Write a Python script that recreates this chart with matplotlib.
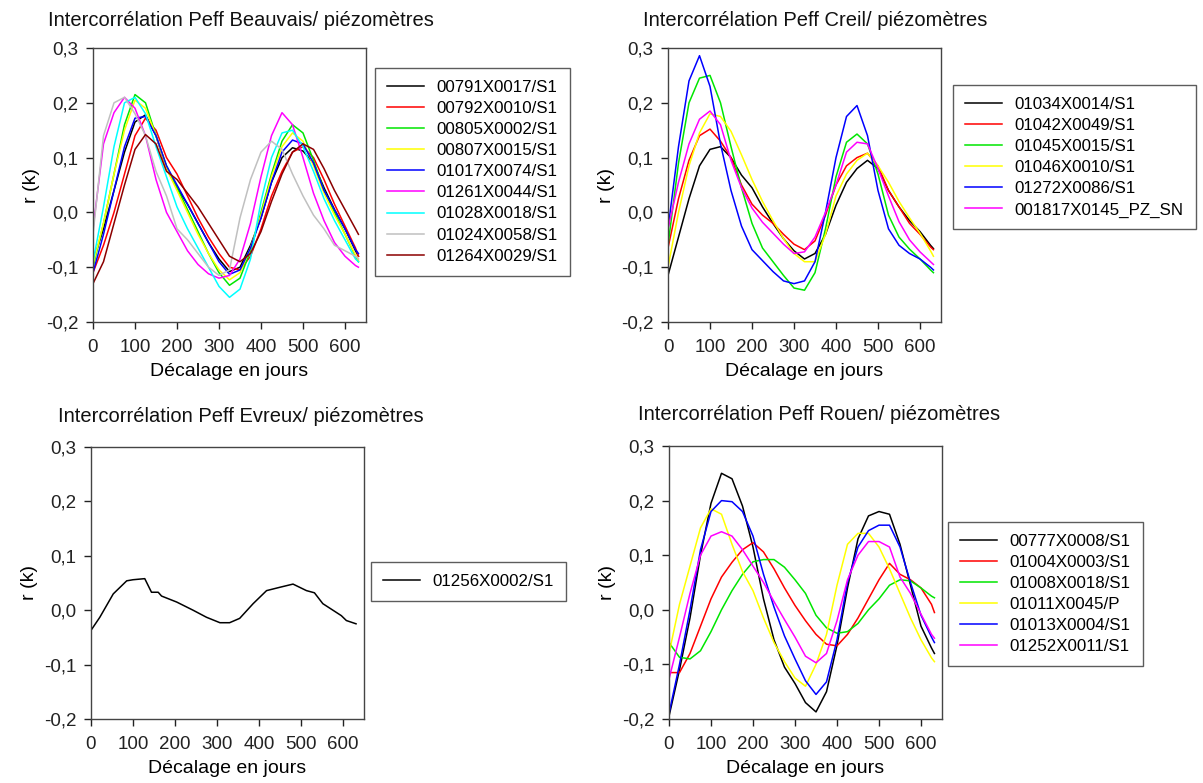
import matplotlib
matplotlib.use("Agg")
import matplotlib.pyplot as plt
from matplotlib.ticker import FuncFormatter

plt.rcParams['font.family'] = ['Liberation Sans', 'DejaVu Sans']

# lag grid (days) shared by the multi-series panels
lag = list(range(0, 626, 25)) + [632]

# --- Beauvais ---
beauvais_names = ["00791X0017/S1", "00792X0010/S1", "00805X0002/S1", "00807X0015/S1",
                  "01017X0074/S1", "01261X0044/S1", "01028X0018/S1", "01024X0058/S1",
                  "01264X0029/S1"]
beauvais_colors = ["#000000", "#ff0000", "#00e600", "#ffff00", "#0000ff",
                   "#ff00ff", "#00ffff", "#c0c0c0", "#8b0000"]
b_00791 = [-0.09, -0.03, 0.04, 0.11, 0.165, 0.178, 0.14, 0.08, 0.045, 0.015, -0.02, -0.055, -0.085,
           -0.108, -0.1, -0.06, -0.01, 0.055, 0.1, 0.118, 0.112, 0.09, 0.045, 0.005, -0.03, -0.07, -0.08]
b_00792 = [-0.11, -0.06, 0.0, 0.07, 0.14, 0.172, 0.15, 0.1, 0.07, 0.03, -0.01, -0.045, -0.075,
           -0.1, -0.105, -0.08, -0.03, 0.03, 0.075, 0.11, 0.12, 0.1, 0.06, 0.015, -0.025, -0.065, -0.08]
b_00805 = [-0.1, -0.02, 0.07, 0.16, 0.215, 0.2, 0.14, 0.085, 0.045, 0.005, -0.035, -0.075, -0.11,
           -0.133, -0.12, -0.07, 0.0, 0.07, 0.13, 0.16, 0.145, 0.095, 0.04, 0.0, -0.04, -0.08, -0.09]
b_00807 = [-0.095, -0.02, 0.07, 0.15, 0.205, 0.19, 0.14, 0.08, 0.04, 0.0, -0.04, -0.075, -0.105,
           -0.123, -0.11, -0.065, -0.005, 0.065, 0.12, 0.145, 0.13, 0.085, 0.035, -0.005, -0.04, -0.078, -0.087]
b_01017 = [-0.11, -0.04, 0.04, 0.12, 0.172, 0.175, 0.14, 0.085, 0.05, 0.015, -0.02, -0.055, -0.09,
           -0.113, -0.105, -0.065, -0.01, 0.055, 0.11, 0.132, 0.125, 0.09, 0.04, 0.005, -0.03, -0.068, -0.075]
b_01261 = [-0.03, 0.125, 0.182, 0.21, 0.19, 0.14, 0.06, 0.0, -0.035, -0.07, -0.095, -0.112, -0.12,
           -0.115, -0.085, -0.02, 0.065, 0.14, 0.182, 0.16, 0.1, 0.035, -0.015, -0.055, -0.08, -0.097, -0.1]
b_01028 = [-0.09, 0.01, 0.12, 0.2, 0.21, 0.18, 0.12, 0.065, 0.01, -0.03, -0.065, -0.1, -0.135,
           -0.155, -0.14, -0.085, 0.02, 0.1, 0.145, 0.15, 0.12, 0.075, 0.025, -0.015, -0.05, -0.085, -0.09]
b_01024 = [-0.04, 0.14, 0.2, 0.21, 0.18, 0.14, 0.075, 0.03, -0.03, -0.05, -0.075, -0.1, -0.115,
           -0.105, -0.01, 0.06, 0.11, 0.13, 0.115, 0.07, 0.03, -0.005, -0.03, -0.06, -0.07, -0.08, -0.085]
b_01264 = [-0.13, -0.09, -0.02, 0.05, 0.115, 0.142, 0.125, 0.075, 0.06, 0.035, 0.01, -0.02, -0.05,
           -0.08, -0.09, -0.075, -0.035, 0.02, 0.07, 0.11, 0.125, 0.115, 0.08, 0.04, 0.005, -0.03, -0.04]
beauvais_series = [b_00791, b_00792, b_00805, b_00807, b_01017, b_01261, b_01028, b_01024, b_01264]

# --- Creil ---
creil_names = ["01034X0014/S1", "01042X0049/S1", "01045X0015/S1", "01046X0010/S1",
               "01272X0086/S1", "001817X0145_PZ_SN"]
creil_colors = ["#000000", "#ff0000", "#00e600", "#ffff00", "#0000ff", "#ff00ff"]
c_01034 = [-0.115, -0.045, 0.025, 0.085, 0.115, 0.12, 0.1, 0.068, 0.045, 0.01, -0.02, -0.048, -0.07,
           -0.085, -0.075, -0.04, 0.013, 0.055, 0.08, 0.095, 0.08, 0.04, 0.01, -0.015, -0.035, -0.06, -0.066]
c_01042 = [-0.065, 0.025, 0.095, 0.14, 0.152, 0.13, 0.1, 0.05, 0.015, -0.005, -0.02, -0.04, -0.058,
           -0.068, -0.052, -0.005, 0.05, 0.085, 0.1, 0.108, 0.085, 0.04, 0.01, -0.02, -0.04, -0.063, -0.068]
c_01045 = [-0.06, 0.09, 0.2, 0.245, 0.25, 0.2, 0.12, 0.045, -0.02, -0.065, -0.09, -0.115, -0.138,
           -0.142, -0.11, -0.03, 0.065, 0.128, 0.143, 0.125, 0.07, -0.005, -0.045, -0.067, -0.085, -0.105, -0.11]
c_01046 = [-0.1, 0.0, 0.085, 0.145, 0.18, 0.175, 0.148, 0.105, 0.06, 0.02, -0.015, -0.048, -0.075,
           -0.09, -0.09, -0.04, 0.03, 0.07, 0.095, 0.108, 0.085, 0.055, 0.02, -0.01, -0.038, -0.07, -0.08]
c_01272 = [-0.03, 0.12, 0.24, 0.286, 0.23, 0.125, 0.04, -0.025, -0.068, -0.088, -0.108, -0.125, -0.13,
           -0.125, -0.09, 0.0, 0.1, 0.175, 0.195, 0.14, 0.04, -0.03, -0.06, -0.075, -0.085, -0.1, -0.105]
c_001817 = [-0.03, 0.055, 0.125, 0.17, 0.185, 0.16, 0.095, 0.045, 0.008, -0.018, -0.038, -0.058, -0.075,
            -0.072, -0.045, 0.0, 0.05, 0.11, 0.128, 0.125, 0.08, 0.03, -0.017, -0.05, -0.072, -0.09, -0.095]
creil_series = [c_01034, c_01042, c_01045, c_01046, c_01272, c_001817]

# --- Evreux (single piezometer) ---
evreux_names = ["01256X0002/S1"]
evreux_lag = [0, 21, 53, 85, 100, 128, 144, 160, 168, 204, 243, 275, 307, 330, 354, 386,
              418, 449, 481, 513, 532, 552, 576, 596, 608, 631]
evreux_r = [-0.037, -0.013, 0.03, 0.054, 0.056, 0.058, 0.033, 0.033, 0.026, 0.015, 0.0, -0.013,
            -0.023, -0.023, -0.015, 0.012, 0.036, 0.042, 0.048, 0.036, 0.032, 0.012, 0.0, -0.01,
            -0.019, -0.025]

# --- Rouen ---
rouen_names = ["00777X0008/S1", "01004X0003/S1", "01008X0018/S1", "01011X0045/P",
               "01013X0004/S1", "01252X0011/S1"]
rouen_colors = ["#000000", "#ff0000", "#00e600", "#ffff00", "#0000ff", "#ff00ff"]
r_00777 = [-0.195, -0.11, -0.015, 0.1, 0.195, 0.25, 0.24, 0.19, 0.115, 0.02, -0.055, -0.105, -0.135,
           -0.17, -0.187, -0.15, -0.065, 0.04, 0.13, 0.172, 0.18, 0.175, 0.12, 0.045, -0.03, -0.07, -0.08]
r_01004 = [-0.115, -0.115, -0.08, -0.03, 0.02, 0.06, 0.087, 0.11, 0.123, 0.106, 0.075, 0.04, 0.008,
           -0.02, -0.045, -0.063, -0.066, -0.045, -0.015, 0.02, 0.055, 0.085, 0.065, 0.055, 0.04, 0.01, -0.005]
r_01008 = [-0.06, -0.087, -0.09, -0.075, -0.04, 0.0, 0.035, 0.065, 0.088, 0.092, 0.092, 0.078, 0.055,
           0.03, -0.01, -0.033, -0.043, -0.04, -0.025, 0.0, 0.02, 0.045, 0.055, 0.053, 0.04, 0.025, 0.022]
r_01011 = [-0.08, 0.01, 0.08, 0.15, 0.185, 0.175, 0.12, 0.07, 0.035, -0.015, -0.06, -0.095, -0.125,
           -0.14, -0.1, -0.045, 0.045, 0.12, 0.14, 0.14, 0.115, 0.075, 0.03, -0.015, -0.055, -0.088, -0.095]
r_01013 = [-0.19, -0.1, 0.0, 0.11, 0.18, 0.2, 0.198, 0.18, 0.135, 0.065, 0.005, -0.048, -0.09,
           -0.13, -0.155, -0.132, -0.055, 0.05, 0.115, 0.145, 0.155, 0.155, 0.115, 0.05, -0.01, -0.05, -0.06]
r_01252 = [-0.127, -0.05, 0.03, 0.1, 0.135, 0.143, 0.135, 0.11, 0.08, 0.05, 0.015, -0.018, -0.05,
           -0.085, -0.097, -0.08, -0.02, 0.055, 0.1, 0.125, 0.125, 0.115, 0.06, 0.03, -0.008, -0.045, -0.052]
rouen_series = [r_00777, r_01004, r_01008, r_01011, r_01013, r_01252]

W, H = 1203, 783
fig = plt.figure(figsize=(W / 100, H / 100), dpi=100)


def px_axes(left, top, right, bottom):
    return fig.add_axes([left / W, 1 - bottom / H, (right - left) / W, (bottom - top) / H])


comma = FuncFormatter(lambda v, p: ("%.1f" % v).replace(".", ","))


def style(ax, title, tx, ty):
    ax.set_xlim(0, 650)
    ax.set_ylim(-0.2, 0.3)
    ax.set_xticks([0, 100, 200, 300, 400, 500, 600])
    ax.set_yticks([-0.2, -0.1, 0.0, 0.1, 0.2, 0.3])
    ax.yaxis.set_major_formatter(comma)
    ax.tick_params(direction="out", length=5, width=1, labelsize=13.5, colors="#222222")
    ax.tick_params(axis="x", pad=7.5)
    ax.tick_params(axis="y", pad=5.5)
    for s in ax.spines.values():
        s.set_color("#444444")
        s.set_linewidth(1.0)
    ax.set_ylabel("r (k)", fontsize=14, labelpad=4)
    ax.set_xlabel("Décalage en jours", fontsize=14, labelpad=5)
    fig.text(tx / W, 1 - ty / H, title, fontsize=14.5, ha="left", va="center", color="#111111")


def legend(ax, left, top, fs=12.2):
    leg = ax.legend(loc="upper left", bbox_to_anchor=(left / W, 1 - top / H),
                    bbox_transform=fig.transFigure, fontsize=fs, frameon=True,
                    fancybox=False, edgecolor="#333333", handlelength=2.2,
                    handletextpad=0.75, labelspacing=0.36, borderpad=0.7, borderaxespad=0)
    leg.get_frame().set_linewidth(1.0)


# Beauvais
ax1 = px_axes(93, 48, 366, 322)
for name, col, vals in zip(beauvais_names, beauvais_colors, beauvais_series):
    ax1.plot(lag, vals, color=col, lw=1.1, label=name)
style(ax1, "Intercorrélation Peff Beauvais/ piézomètres", 48, 21)
legend(ax1, 375, 68)

# Creil
ax2 = px_axes(668, 48, 941, 322)
for name, col, vals in zip(creil_names, creil_colors, creil_series):
    ax2.plot(lag, vals, color=col, lw=1.1, label=name)
style(ax2, "Intercorrélation Peff Creil/ piézomètres", 643, 21)
legend(ax2, 953, 85)

# Evreux
ax3 = px_axes(91, 447, 364, 719)
ax3.plot(evreux_lag, evreux_r, color="#000000", lw=1.1, label=evreux_names[0])
style(ax3, "Intercorrélation Peff Evreux/ piézomètres", 58, 416)
legend(ax3, 371, 562)

# Rouen
ax4 = px_axes(669, 446, 942, 719)
for name, col, vals in zip(rouen_names, rouen_colors, rouen_series):
    ax4.plot(lag, vals, color=col, lw=1.1, label=name)
style(ax4, "Intercorrélation Peff Rouen/ piézomètres", 638, 415)
legend(ax4, 948, 522)

fig.savefig("out.png", dpi=100)
